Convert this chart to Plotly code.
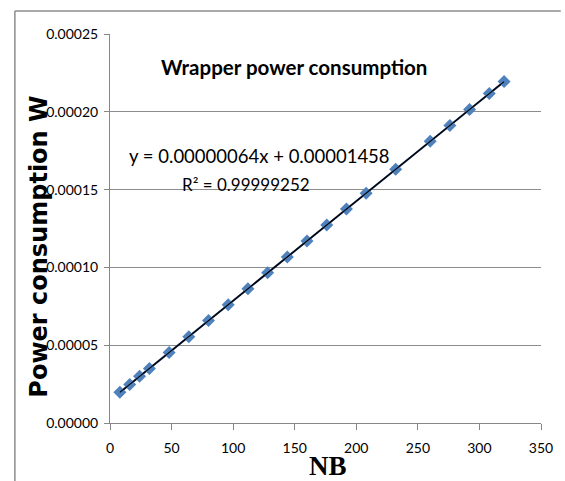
import plotly.graph_objects as go

# Data
nb = [8, 16, 24, 32, 48, 64, 80, 96, 112, 128, 144, 160, 176, 192, 208, 232, 260, 276, 292, 308, 320]
power = [0.0000197, 0.0000248, 0.0000300, 0.0000351, 0.0000453, 0.0000555, 0.0000658, 0.0000760,
         0.0000863, 0.0000965, 0.0001067, 0.0001170, 0.0001272, 0.0001375, 0.0001477, 0.0001631,
         0.0001810, 0.0001912, 0.0002015, 0.0002117, 0.0002194]
slope = 0.00000064
intercept = 0.00001458
y_ticks = [0, 0.00005, 0.00010, 0.00015, 0.00020, 0.00025]
y_tick_labels = ["0.00000", "0.00005", "0.00010", "0.00015", "0.00020", "0.00025"]
x_ticks = [0, 50, 100, 150, 200, 250, 300, 350]

trend_x = [min(nb), max(nb)]
trend_y = [slope * v + intercept for v in trend_x]

fig = go.Figure()
fig.add_trace(go.Scatter(
    x=nb, y=power, mode="markers+lines",
    line=dict(color="#1F3864", width=2),
    marker=dict(symbol="diamond", size=10, color="#4F81BD",
                line=dict(color="#4F81BD", width=0)),
    showlegend=False))
fig.add_trace(go.Scatter(
    x=trend_x, y=trend_y, mode="lines",
    line=dict(color="black", width=1.2), showlegend=False))

axis_font = dict(family="Lato, Carlito, Liberation Sans", size=14, color="black")

# helpers: pixel -> paper coordinate (plot area spans x 110..545, y 34..423)
def px(x):
    return (x - 110) / 435

def py(y):
    return (423 - y) / 389

fig.update_layout(
    width=565, height=481,
    margin=dict(l=110, r=20, t=34, b=58),
    paper_bgcolor="white", plot_bgcolor="white",
    xaxis=dict(range=[0, 350], tickvals=x_ticks, showgrid=False,
               showline=True, linecolor="#878787", linewidth=1,
               ticks="outside", ticklen=6, tickcolor="#878787",
               ticklabelstandoff=6,
               tickfont=axis_font, zeroline=False, fixedrange=True),
    yaxis=dict(range=[0, 0.00025], tickvals=y_ticks, ticktext=y_tick_labels,
               showgrid=True, gridcolor="#8c8c8c", gridwidth=1,
               showline=True, linecolor="#878787", linewidth=1,
               ticks="outside", ticklen=5, tickcolor="#878787",
               ticklabelstandoff=3,
               tickfont=axis_font, zeroline=False, fixedrange=True),
    shapes=[
        dict(type="line", xref="paper", yref="paper", x0=px(14), x1=px(565), y0=py(11), y1=py(11),
             line=dict(color="#8c8c8c", width=1.5)),
        dict(type="line", xref="paper", yref="paper", x0=px(14), x1=px(14), y0=py(11), y1=py(481),
             line=dict(color="#8c8c8c", width=1.5)),
    ],
    annotations=[
        dict(text="<b>Wrapper power consumption</b>", xref="paper", yref="paper",
             x=px(296), y=py(67), xanchor="center", yanchor="middle", showarrow=False,
             font=dict(family="Lato, Open Sans", size=20.5, color="black")),
        dict(text="y = 0.00000064x + 0.00001458", xref="paper", yref="paper",
             x=px(261), y=py(156), xanchor="center", yanchor="middle", showarrow=False,
             font=dict(family="Lato, Open Sans", size=18.5, color="black")),
        dict(text="R² = 0.99999252", xref="paper", yref="paper",
             x=px(247), y=py(184), xanchor="center", yanchor="middle", showarrow=False,
             font=dict(family="Lato, Open Sans", size=17, color="black")),
        dict(text="<b>Power consumption W</b>", xref="paper", yref="paper",
             x=px(38), y=py(247), xanchor="center", yanchor="middle", showarrow=False,
             textangle=-90,
             font=dict(family="DejaVu Sans", size=24, color="black")),
        dict(text="<b>NB</b>", xref="paper", yref="paper",
             x=px(330), y=py(466), xanchor="center", yanchor="middle", showarrow=False,
             font=dict(family="Liberation Serif", size=27, color="black")),
    ],
)

fig.write_html("out.html", config={"displayModeBar": False},
               post_script="document.body.style.margin='0px';document.body.style.overflow='hidden';")
